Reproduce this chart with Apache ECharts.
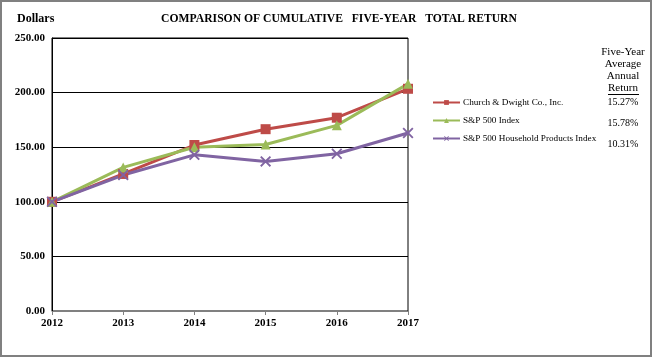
<!DOCTYPE html>
<html><head><meta charset="utf-8">
<script src="https://cdn.jsdelivr.net/npm/echarts@6/dist/echarts.min.js"></script>
<style>html,body{margin:0;padding:0;background:#fff}#c{width:652px;height:357px;box-sizing:border-box;border:2px solid #808080;}</style>
</head><body><div id="c"></div>
<script>
const years = ['2012','2013','2014','2015','2016','2017'];
const seriesNames = ['Church & Dwight Co., Inc.', 'S&P 500 Index', 'S&P 500 Household Products Index'];
const churchDwight = [100, 125.5, 152, 166.5, 177, 203.5];
const sp500 = [100, 131.5, 150, 152.5, 170, 208];
const householdProducts = [100, 124.5, 143, 137, 144, 163];
const annualReturns = ['15.27%', '15.78%', '10.31%'];
const yTicks = [0, 50, 100, 150, 200, 250];

const FONT = '"Liberation Serif","Times New Roman",serif';
const colors = ['#BE4B48', '#9BBB59', '#8064A2'];
const xSym = 'path://M0,1.2L1.2,0L5,3.8L8.8,0L10,1.2L6.2,5L10,8.8L8.8,10L5,6.2L1.2,10L0,8.8L3.8,5Z';

const chart = echarts.init(document.getElementById('c'), null, {renderer:'canvas'});
const mk = (name, data, color, symbol, size) => ({
  name, type:'line', data, symbol, symbolSize:size, showSymbol:true,
  lineStyle:{color, width:3}, itemStyle:{color}, animation:false, z: 3
});
const txt = (text, x, y, sx, font) => ({type:'text', x, y, scaleX:sx,
  style:{text, font, fill:'#000', align:'center', verticalAlign:'middle'}});
chart.setOption({
  animation:false,
  textStyle:{fontFamily:FONT},
  grid:{left:50, right:242, top:36, bottom:44, show:true, borderColor:'#000', borderWidth:1},
  xAxis:{type:'category', data:years, boundaryGap:false,
    axisLine:{lineStyle:{color:'#808080', width:1}},
    axisTick:{show:true, length:4, lineStyle:{color:'#808080'}},
    axisLabel:{color:'#000', fontWeight:'bold', fontSize:11, fontFamily:FONT, margin:7}},
  yAxis:{type:'value', min:yTicks[0], max:yTicks[yTicks.length-1], interval:50,
    axisLine:{show:true, lineStyle:{color:'#000'}},
    axisTick:{show:false},
    splitLine:{lineStyle:{color:'#000', width:1}},
    axisLabel:{color:'#000', fontWeight:'bold', fontSize:11, fontFamily:FONT, margin:7,
      formatter:v=>v.toFixed(2)}},
  legend:{orient:'vertical', left:430, top:96, padding:0, itemGap:9, itemWidth:27, itemHeight:6,
    textStyle:{fontFamily:FONT, fontSize:9.2, color:'#000', padding:[0,0,0,-2]},
    data:seriesNames},
  series:[
    mk(seriesNames[0], churchDwight, colors[0], 'rect', 10),
    mk(seriesNames[1], sp500, colors[1], 'triangle', 10),
    mk(seriesNames[2], householdProducts, colors[2], xSym, 11)
  ],
  graphic:[
    {type:'text', x:15, y:16.5, style:{text:'Dollars', font:'bold 12px '+FONT, fill:'#000', verticalAlign:'middle'}},
    txt('COMPARISON OF CUMULATIVE   FIVE-YEAR   TOTAL RETURN', 337, 16.5, 0.97, 'bold 12px '+FONT),
    txt('Five-Year', 621, 50, 1, '11px '+FONT),
    txt('Average', 621, 62.5, 1, '11px '+FONT),
    txt('Annual', 621, 74.5, 1, '11px '+FONT),
    txt('Return', 621, 86, 1, '11px '+FONT),
    {type:'line', shape:{x1:606, y1:92.5, x2:637, y2:92.5}, style:{stroke:'#000', lineWidth:1}},
    txt(annualReturns[0], 621, 100, 1, '10px '+FONT),
    txt(annualReturns[1], 621, 121, 1, '10px '+FONT),
    txt(annualReturns[2], 621, 142, 1, '10px '+FONT)
  ]
});
</script></body></html>
